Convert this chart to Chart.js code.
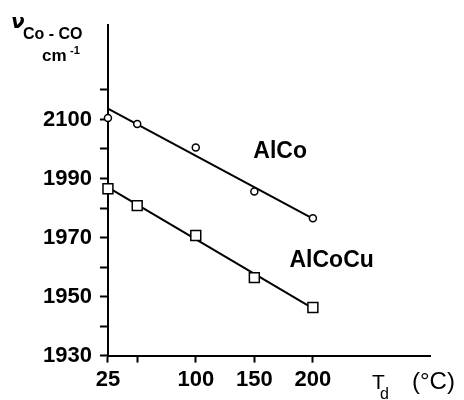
<!DOCTYPE html>
<html>
<head>
<meta charset="utf-8">
<script src="https://cdn.jsdelivr.net/npm/chart.js@4/dist/chart.umd.min.js"></script>
<style>
  html, body { margin: 0; padding: 0; background: #fff; }
  #wrap { width: 464px; height: 400px; }
</style>
</head>
<body>
<div id="wrap"><canvas id="c" width="464" height="400"></canvas></div>
<script>
// Desorption temperature (°C) and Co–CO stretching frequency (cm-1)
const tempsAlCo = [25, 50, 100, 150, 200];
const nuAlCo = [2010.5, 2008.5, 2000.5, 1985.6, 1976.5];
const tempsAlCoCu = [25, 50, 100, 150, 200];
const nuAlCoCu = [1986.5, 1980.8, 1970.7, 1956.4, 1946.3];

// Straight-line trends through each series (end points)
const fitAlCoX = [25, 200];
const fitAlCoY = [2013.7, 1976.4];
const fitAlCoCuX = [25, 200];
const fitAlCoCuY = [1987.0, 1946.0];

// Axis ticks
const xTickValues = [25, 50, 100, 150, 200];
const xTickLabels = ['25', '', '100', '150', '200'];
const yTickValues = [1930, 1940, 1950, 1960, 1970, 1980, 1990, 2000, 2010, 2020];
const yTickLabels = ['1930', '', '1950', '', '1970', '', '1990', '', '2100', ''];

const seriesNames = ['AlCo', 'AlCoCu'];

const pts = (xs, ys) => xs.map((x, i) => ({ x: x, y: ys[i] }));

const tickFont = { family: '"Liberation Sans", Arial, sans-serif', size: 22, weight: 'bold' };

const annotations = {
  id: 'annotations',
  afterDraw(chart) {
    const ctx = chart.ctx;
    const xs = chart.scales.x, ys = chart.scales.y;
    ctx.save();
    ctx.fillStyle = '#000';

    // series names
    ctx.font = 'bold 23px "Liberation Sans", Arial, sans-serif';
    ctx.textAlign = 'center';
    ctx.textBaseline = 'middle';
    ctx.fillText(seriesNames[0], xs.getPixelForValue(172), ys.getPixelForValue(1999));
    ctx.fillText(seriesNames[1], xs.getPixelForValue(216), ys.getPixelForValue(1962));

    // y-axis title: ν(Co-CO), cm-1
    ctx.textAlign = 'left';
    ctx.textBaseline = 'alphabetic';
    ctx.font = 'italic bold 20px "DejaVu Sans", sans-serif';
    ctx.fillText('ν', 11, 28);
    ctx.font = 'bold 16px "Liberation Sans", Arial, sans-serif';
    ctx.fillText('Co - CO', 23, 39);
    ctx.font = 'bold 17px "Liberation Sans", Arial, sans-serif';
    ctx.fillText('cm', 42, 61);
    ctx.font = 'bold 11px "Liberation Sans", Arial, sans-serif';
    ctx.fillText('-1', 70, 54);

    // x-axis title: Td (°C)
    ctx.font = '21px "Liberation Sans", Arial, sans-serif';
    ctx.fillText('T', 372, 389);
    ctx.font = '16px "Liberation Sans", Arial, sans-serif';
    ctx.fillText('d', 380, 399);
    ctx.font = '24px "Liberation Sans", Arial, sans-serif';
    ctx.fillText('(°C)', 412, 389);
    ctx.restore();
  }
};

new Chart(document.getElementById('c'), {
  type: 'scatter',
  data: {
    datasets: [
      {
        label: seriesNames[0],
        data: pts(tempsAlCo, nuAlCo),
        pointStyle: 'circle',
        pointRadius: 3.5,
        borderColor: '#000',
        backgroundColor: '#fff',
        borderWidth: 1.5,
        showLine: false,
        clip: false
      },
      {
        label: seriesNames[1],
        data: pts(tempsAlCoCu, nuAlCoCu),
        pointStyle: 'rect',
        pointRadius: 7,
        borderColor: '#000',
        backgroundColor: '#fff',
        borderWidth: 1.5,
        showLine: false,
        clip: false
      },
      {
        label: 'fit AlCo',
        data: pts(fitAlCoX, fitAlCoY),
        showLine: true,
        pointRadius: 0,
        borderColor: '#000',
        borderWidth: 2,
        clip: false
      },
      {
        label: 'fit AlCoCu',
        data: pts(fitAlCoCuX, fitAlCoCuY),
        showLine: true,
        pointRadius: 0,
        borderColor: '#000',
        borderWidth: 2,
        clip: false
      }
    ]
  },
  options: {
    responsive: false,
    animation: false,
    layout: { padding: { left: 35, right: 34, top: 25, bottom: 3 } },
    plugins: { legend: { display: false }, tooltip: { enabled: false } },
    scales: {
      x: {
        type: 'linear',
        min: 25,
        max: 300,
        afterBuildTicks: (s) => { s.ticks = xTickValues.map(v => ({ value: v })); },
        ticks: {
          color: '#000',
          font: tickFont,
          padding: 4,
          maxRotation: 0,
          autoSkip: false,
          callback: (v) => { const i = xTickValues.indexOf(v); return i >= 0 ? xTickLabels[i] : ''; }
        },
        grid: { drawOnChartArea: false, drawTicks: true, tickLength: 7, tickColor: '#000', tickWidth: 2 },
        border: { display: true, color: '#000', width: 2 }
      },
      y: {
        type: 'linear',
        min: 1930,
        max: 2042,
        afterBuildTicks: (s) => { s.ticks = yTickValues.map(v => ({ value: v })); },
        ticks: {
          color: '#000',
          font: tickFont,
          padding: 8,
          autoSkip: false,
          callback: (v) => { const i = yTickValues.indexOf(v); return i >= 0 ? yTickLabels[i] : ''; }
        },
        grid: { drawOnChartArea: false, drawTicks: true, tickLength: 8, tickColor: '#000', tickWidth: 2 },
        border: { display: true, color: '#000', width: 2 }
      }
    }
  },
  plugins: [annotations]
});
</script>
</body>
</html>
